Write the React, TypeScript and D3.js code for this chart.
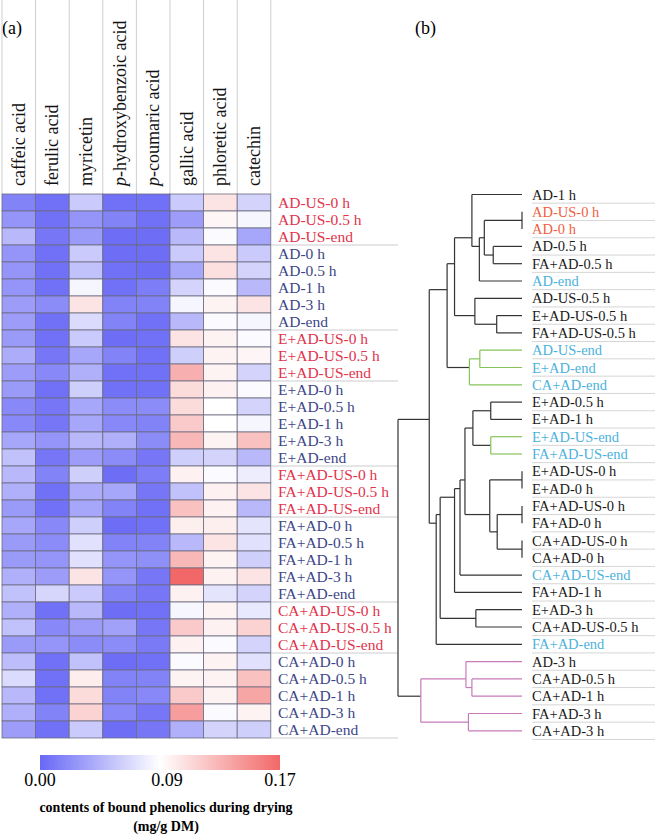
import * as d3 from "d3";
import React, { useEffect, useRef } from "react";

const compounds = [
  "caffeic acid",
  "ferulic acid",
  "myricetin",
  "p-hydroxybenzoic acid",
  "p-coumaric acid",
  "gallic acid",
  "phloretic acid",
  "catechin",
];

const samples = [
  "AD-US-0 h", "AD-US-0.5 h", "AD-US-end",
  "AD-0 h", "AD-0.5 h", "AD-1 h", "AD-3 h", "AD-end",
  "E+AD-US-0 h", "E+AD-US-0.5 h", "E+AD-US-end",
  "E+AD-0 h", "E+AD-0.5 h", "E+AD-1 h", "E+AD-3 h", "E+AD-end",
  "FA+AD-US-0 h", "FA+AD-US-0.5 h", "FA+AD-US-end",
  "FA+AD-0 h", "FA+AD-0.5 h", "FA+AD-1 h", "FA+AD-3 h", "FA+AD-end",
  "CA+AD-US-0 h", "CA+AD-US-0.5 h", "CA+AD-US-end",
  "CA+AD-0 h", "CA+AD-0.5 h", "CA+AD-1 h", "CA+AD-3 h", "CA+AD-end",
];

// mg/g DM, one row per sample, columns in compound order
const contents = [
  [0.015, 0.005, 0.055, 0.005, 0.005, 0.055, 0.100, 0.060],
  [0.025, 0.005, 0.025, 0.015, 0.005, 0.030, 0.090, 0.080],
  [0.045, 0.008, 0.028, 0.003, 0.003, 0.045, 0.082, 0.035],
  [0.025, 0.005, 0.055, 0.003, 0.003, 0.055, 0.100, 0.055],
  [0.025, 0.005, 0.050, 0.005, 0.003, 0.035, 0.103, 0.060],
  [0.025, 0.005, 0.080, 0.005, 0.012, 0.060, 0.082, 0.045],
  [0.030, 0.020, 0.100, 0.015, 0.015, 0.080, 0.092, 0.100],
  [0.030, 0.005, 0.065, 0.015, 0.005, 0.045, 0.082, 0.080],
  [0.028, 0.005, 0.055, 0.003, 0.005, 0.100, 0.092, 0.082],
  [0.038, 0.008, 0.035, 0.015, 0.005, 0.058, 0.092, 0.090],
  [0.030, 0.018, 0.040, 0.005, 0.005, 0.130, 0.092, 0.060],
  [0.028, 0.005, 0.058, 0.005, 0.005, 0.105, 0.093, 0.082],
  [0.018, 0.008, 0.035, 0.020, 0.020, 0.105, 0.085, 0.060],
  [0.018, 0.008, 0.035, 0.018, 0.015, 0.115, 0.085, 0.080],
  [0.035, 0.025, 0.045, 0.040, 0.020, 0.125, 0.092, 0.120],
  [0.050, 0.008, 0.030, 0.020, 0.008, 0.058, 0.060, 0.045],
  [0.045, 0.015, 0.058, 0.003, 0.012, 0.093, 0.082, 0.075],
  [0.040, 0.005, 0.038, 0.035, 0.008, 0.050, 0.093, 0.100],
  [0.028, 0.005, 0.035, 0.015, 0.005, 0.120, 0.093, 0.045],
  [0.035, 0.018, 0.058, 0.003, 0.005, 0.094, 0.094, 0.070],
  [0.028, 0.020, 0.068, 0.015, 0.015, 0.045, 0.100, 0.068],
  [0.028, 0.025, 0.068, 0.025, 0.022, 0.125, 0.092, 0.058],
  [0.040, 0.030, 0.100, 0.025, 0.008, 0.170, 0.093, 0.100],
  [0.050, 0.062, 0.055, 0.015, 0.008, 0.093, 0.070, 0.060],
  [0.040, 0.005, 0.045, 0.003, 0.005, 0.080, 0.092, 0.072],
  [0.050, 0.018, 0.030, 0.032, 0.008, 0.115, 0.093, 0.110],
  [0.028, 0.025, 0.020, 0.020, 0.010, 0.093, 0.083, 0.060],
  [0.048, 0.005, 0.050, 0.003, 0.005, 0.082, 0.092, 0.068],
  [0.065, 0.005, 0.095, 0.015, 0.015, 0.092, 0.092, 0.120],
  [0.045, 0.005, 0.105, 0.015, 0.018, 0.115, 0.092, 0.135],
  [0.040, 0.015, 0.110, 0.018, 0.008, 0.140, 0.082, 0.092],
  [0.030, 0.005, 0.055, 0.003, 0.008, 0.040, 0.060, 0.058],
];

const legendTicks = [0, 0.09, 0.17];

// hierarchical clustering, [node, left, right, rescaled distance 0-25]
const merges = [
  ["a1", "AD-US-0 h", "AD-0 h", 0],
  ["a2", "AD-0.5 h", "FA+AD-0.5 h", 5.8],
  ["a3", "a1", "a2", 7.6],
  ["a4", "a3", "AD-end", 8.6],
  ["a5", "AD-1 h", "a4", 10.1],
  ["b1", "E+AD-US-0.5 h", "FA+AD-US-0.5 h", 5.1],
  ["b2", "AD-US-0.5 h", "b1", 9.5],
  ["c1", "a5", "b2", 13.6],
  ["g1", "AD-US-end", "E+AD-end", 8.5],
  ["g2", "g1", "CA+AD-end", 10.6],
  ["c2", "c1", "g2", 15.1],
  ["d1", "E+AD-0.5 h", "E+AD-1 h", 6.3],
  ["g3", "E+AD-US-end", "FA+AD-US-end", 6.3],
  ["d2", "d1", "g3", 9.9],
  ["e1", "E+AD-US-0 h", "E+AD-0 h", 0],
  ["e2", "FA+AD-US-0 h", "FA+AD-0 h", 0],
  ["e3", "CA+AD-US-0 h", "CA+AD-0 h", 0],
  ["e4", "e2", "e3", 5.0],
  ["e5", "e1", "e4", 6.5],
  ["d3", "d2", "e5", 11.5],
  ["d4", "d3", "CA+AD-US-end", 12.5],
  ["d5", "d4", "FA+AD-1 h", 13.6],
  ["f1", "E+AD-3 h", "CA+AD-US-0.5 h", 9.3],
  ["d6", "d5", "f1", 16.5],
  ["d7", "d6", "FA+AD-end", 17.3],
  ["c3", "c2", "d7", 18.7],
  ["p1", "CA+AD-0.5 h", "CA+AD-1 h", 10.1],
  ["p2", "AD-3 h", "p1", 11.3],
  ["p3", "FA+AD-3 h", "CA+AD-3 h", 10.8],
  ["p4", "p2", "p3", 20.4],
  ["root", "c3", "p4", 25],
];

const clusterGroups = [
  ["g2", "green"],
  ["g3", "green"],
  ["p4", "pink"],
];
const orangeLeaves = ["AD-US-0 h", "AD-0 h"];

const FONT = "'Liberation Serif', 'Times New Roman', serif";

const App = () => {
  const svgRef = useRef(null);

  useEffect(() => {
    const svg = d3.select(svgRef.current);
    svg.selectAll("*").remove();

    // ---------- (a) heatmap ----------
    const x = d3.scaleBand().domain(compounds).range([2, 270.8]);
    const y = d3.scaleBand().domain(samples).range([194, 738]);
    const color = d3
      .scaleLinear()
      .domain([0, 0.085, 0.17])
      .range(["#6868f6", "#ffffff", "#f26868"])
      .clamp(true);

    svg
      .append("text")
      .attr("x", 2)
      .attr("y", 34)
      .attr("font-size", 18)
      .attr("font-family", FONT)
      .text("(a)");

    // header grid
    const bounds = compounds.map((c) => x(c)).concat([x.range()[1]]);
    svg
      .selectAll(".hline")
      .data(bounds)
      .enter()
      .append("line")
      .attr("x1", (d) => d)
      .attr("x2", (d) => d)
      .attr("y1", 0)
      .attr("y2", 194)
      .attr("stroke", "#cfcfcf")
      .attr("stroke-width", 1);

    // column labels, read bottom to top
    const head = svg
      .selectAll(".colLabel")
      .data(compounds)
      .enter()
      .append("text")
      .attr(
        "transform",
        (d) => `translate(${x(d) + x.bandwidth() / 2 + 6},186) rotate(-90)`
      )
      .attr("font-size", 18)
      .attr("font-family", FONT)
      .attr("fill", "#111");
    head.each(function (d) {
      const t = d3.select(this);
      if (d.startsWith("p-")) {
        t.append("tspan").attr("font-style", "italic").text("p");
        t.append("tspan").text(d.slice(1));
      } else {
        t.text(d);
      }
    });

    // cells
    const cells = [];
    samples.forEach((s, i) =>
      compounds.forEach((c, j) => cells.push({ s, c, v: contents[i][j] }))
    );
    svg
      .selectAll(".cell")
      .data(cells)
      .enter()
      .append("rect")
      .attr("x", (d) => x(d.c))
      .attr("y", (d) => y(d.s))
      .attr("width", x.bandwidth())
      .attr("height", y.bandwidth())
      .attr("fill", (d) => color(d.v))
      .attr("stroke", "#6c6c80")
      .attr("stroke-width", 0.8);

    // row labels
    svg
      .selectAll(".rowLabel")
      .data(samples)
      .enter()
      .append("text")
      .attr("x", 278)
      .attr("y", (d) => y(d) + y.bandwidth() / 2)
      .attr("dy", "0.35em")
      .attr("font-size", 15.5)
      .attr("font-family", FONT)
      .attr("fill", (d) => (d.includes("US") ? "#e2334b" : "#3d4688"))
      .text((d) => d);

    // group separators (end of each block)
    const groupEnds = samples.filter(
      (s, i) => i === samples.length - 1 || s.includes("US") !== samples[i + 1].includes("US")
    );
    svg
      .selectAll(".sep")
      .data(groupEnds)
      .enter()
      .append("line")
      .attr("x1", x.range()[1])
      .attr("x2", 398)
      .attr("y1", (d) => y(d) + y.bandwidth())
      .attr("y2", (d) => y(d) + y.bandwidth())
      .attr("stroke", "#cccccc")
      .attr("stroke-width", 1);

    // legend
    const lx = d3.scaleLinear().domain([0, 0.17]).range([40, 280]);
    const grad = svg
      .append("defs")
      .append("linearGradient")
      .attr("id", "legendGrad");
    d3.range(0, 1.001, 0.1).forEach((t) =>
      grad
        .append("stop")
        .attr("offset", t)
        .attr("stop-color", color(t * 0.17))
    );
    svg
      .append("rect")
      .attr("x", lx(0))
      .attr("y", 755)
      .attr("width", lx(0.17) - lx(0))
      .attr("height", 15)
      .attr("fill", "url(#legendGrad)");
    svg
      .selectAll(".ltick")
      .data(legendTicks)
      .enter()
      .append("text")
      .attr("x", (d) => lx(d))
      .attr("y", 786)
      .attr("text-anchor", "middle")
      .attr("font-size", 18)
      .attr("font-family", FONT)
      .text((d) => d.toFixed(2));
    svg
      .append("text")
      .attr("x", 166)
      .attr("y", 812)
      .attr("text-anchor", "middle")
      .attr("font-size", 14)
      .attr("font-weight", "bold")
      .attr("font-family", FONT)
      .text("contents of bound phenolics during drying");
    svg
      .append("text")
      .attr("x", 166)
      .attr("y", 831)
      .attr("text-anchor", "middle")
      .attr("font-size", 14)
      .attr("font-weight", "bold")
      .attr("font-family", FONT)
      .text("(mg/g DM)");

    // ---------- (b) dendrogram ----------
    svg
      .append("text")
      .attr("x", 415)
      .attr("y", 34)
      .attr("font-size", 18)
      .attr("font-family", FONT)
      .text("(b)");

    const nodes = {};
    merges.forEach(([id, l, r, h]) => {
      const kid = (k) => nodes[k] || { name: k, height: 0 };
      nodes[id] = { name: id, height: h, children: [kid(l), kid(r)] };
    });
    const root = d3.hierarchy(nodes.root);
    const leaves = root.leaves();
    const dy = d3
      .scalePoint()
      .domain(leaves.map((d) => d.data.name))
      .range([194.5, 730.8]);
    const dx = d3.scaleLinear().domain([0, 25]).range([522, 398]);

    const clusterColor = { green: "#86c35a", pink: "#c87ab8" };
    root.eachBefore((n) => {
      const g = clusterGroups.find((c) => c[0] === n.data.name);
      n.col = g ? clusterColor[g[1]] : n.parent ? n.parent.col : "#333";
    });
    root.eachAfter((n) => {
      n.x = dx(n.data.height);
      if (n.children) {
        const ls = n.leaves();
        n.y = (dy(ls[0].data.name) + dy(ls[ls.length - 1].data.name)) / 2;
      } else {
        n.y = dy(n.data.name);
      }
    });

    const links = svg.append("g").attr("fill", "none").attr("stroke-width", 1.2);
    root.descendants().forEach((n) => {
      if (!n.children) return;
      const [a, b] = n.children;
      links
        .append("line")
        .attr("x1", n.x)
        .attr("x2", n.x)
        .attr("y1", a.y)
        .attr("y2", b.y)
        .attr("stroke", n.col);
      n.children.forEach((c) => {
        links
          .append("line")
          .attr("x1", n.x)
          .attr("x2", c.x)
          .attr("y1", c.y)
          .attr("y2", c.y)
          .attr("stroke", n.col);
      });
    });

    svg
      .selectAll(".leafSep")
      .data(leaves)
      .enter()
      .append("line")
      .attr("x1", 532)
      .attr("x2", 655)
      .attr("y1", (d) => d.y + 8.65)
      .attr("y2", (d) => d.y + 8.65)
      .attr("stroke", "#d6d6d6")
      .attr("stroke-width", 1);

    svg
      .selectAll(".leafLabel")
      .data(leaves)
      .enter()
      .append("text")
      .attr("x", 532)
      .attr("y", (d) => d.y)
      .attr("dy", "0.35em")
      .attr("font-size", 14.5)
      .attr("font-family", FONT)
      .attr("fill", (d) =>
        orangeLeaves.includes(d.data.name)
          ? "#f2603f"
          : d.data.name.endsWith("end")
          ? "#4cb2dc"
          : "#1a1a1a"
      )
      .text((d) => d.data.name);
  }, []);

  return (
    <svg
      ref={svgRef}
      width="655"
      height="836"
      style={{ position: "absolute", left: 0, top: 0, background: "#fff" }}
    ></svg>
  );
};

export default App;
